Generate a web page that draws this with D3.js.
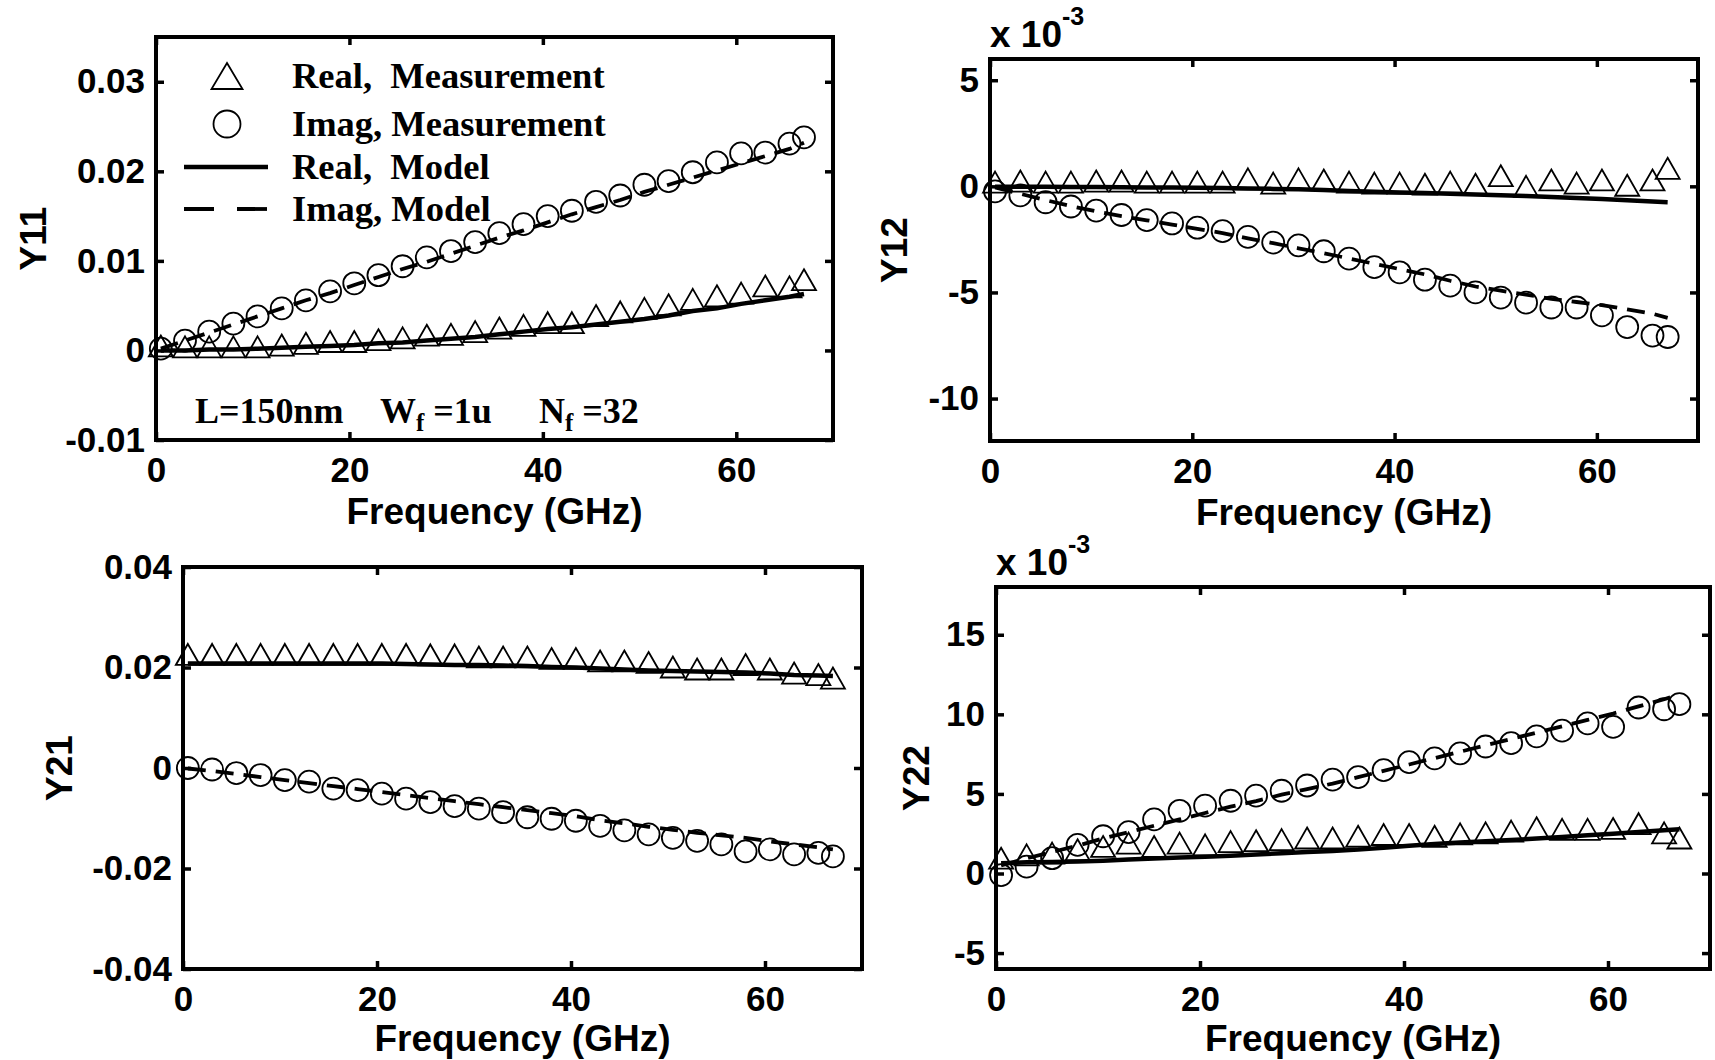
<!DOCTYPE html>
<html>
<head>
<meta charset="utf-8">
<script src="https://cdn.jsdelivr.net/npm/d3@7"></script>
<style>
    body { margin: 0; background: #fff; }
    svg text { font-family: "Liberation Sans", Arial, sans-serif; font-weight: bold; fill: #000; }
    svg text.serif { font-family: "Liberation Serif", "Times New Roman", serif; }
</style>
</head>
<body>
<svg width="1715" height="1060"></svg>
<script>
// frequency points (GHz)
const freq = [0.5, 3, 5.5, 8, 10.5, 13, 15.5, 18, 20.5, 23, 25.5, 28, 30.5, 33, 35.5, 38, 40.5, 43, 45.5, 48, 50.5, 53, 55.5, 58, 60.5, 63, 65.5, 67];

const xTicks = [0, 20, 40, 60];
const y11Ticks = [-0.01, 0, 0.01, 0.02, 0.03];
const y12Ticks = [-10, -5, 0, 5];
const y21Ticks = [-0.04, -0.02, 0, 0.02, 0.04];
const y22Ticks = [-5, 0, 5, 10, 15];

// Y11
const y11RealMeas = [0.0005, 0.0004, 0.0004, 0.0004, 0.0004, 0.0006, 0.0008, 0.001, 0.001, 0.0012, 0.0014, 0.0017, 0.0018, 0.0021, 0.0025, 0.0028, 0.0031, 0.0031, 0.0039, 0.0043, 0.0047, 0.0051, 0.0057, 0.0061, 0.0064, 0.0072, 0.0071, 0.0079];
const y11ImagMeas = [0.0002, 0.0011, 0.0021, 0.003, 0.0038, 0.0047, 0.0056, 0.0066, 0.0075, 0.0084, 0.0094, 0.0104, 0.0111, 0.0121, 0.0131, 0.0141, 0.015, 0.0156, 0.0166, 0.0173, 0.0185, 0.0189, 0.0199, 0.021, 0.022, 0.0221, 0.0231, 0.0238];
const y11RealModel = [0, 0, 0.0001, 0.0001, 0.0002, 0.0003, 0.0004, 0.0005, 0.0006, 0.0008, 0.0009, 0.0011, 0.0013, 0.0015, 0.0018, 0.0021, 0.0024, 0.0026, 0.0029, 0.0032, 0.0035, 0.0039, 0.0044, 0.0047, 0.0052, 0.0056, 0.006, 0.0063];
const y11ImagModel = [0.0002, 0.0011, 0.002, 0.0029, 0.0038, 0.0047, 0.0056, 0.0064, 0.0073, 0.0082, 0.0091, 0.0099, 0.0108, 0.0117, 0.0126, 0.0134, 0.0143, 0.0152, 0.016, 0.0168, 0.0177, 0.0185, 0.0193, 0.0201, 0.0209, 0.0217, 0.0225, 0.0232];

// Y12 (x 1e-3)
const y12RealMeas = [0.2, 0.25, 0.2, 0.2, 0.25, 0.25, 0.2, 0.2, 0.2, 0.2, 0.35, 0.15, 0.35, 0.3, 0.2, 0.15, 0.15, 0.1, 0.2, 0.1, 0.5, 0.0, 0.3, 0.15, 0.3, 0.05, 0.3, 0.85];
const y12ImagMeas = [-0.24, -0.43, -0.75, -0.95, -1.14, -1.35, -1.59, -1.75, -1.95, -2.11, -2.38, -2.65, -2.78, -3.06, -3.41, -3.81, -4.05, -4.4, -4.68, -5.0, -5.24, -5.48, -5.71, -5.71, -6.08, -6.63, -7.03, -7.1];
const y12RealModel = [-0.02, -0.02, -0.02, -0.03, -0.03, -0.04, -0.05, -0.06, -0.07, -0.08, -0.1, -0.12, -0.14, -0.17, -0.22, -0.26, -0.29, -0.32, -0.35, -0.38, -0.42, -0.46, -0.5, -0.55, -0.6, -0.65, -0.72, -0.75];
const y12ImagModel = [-0.05, -0.35, -0.65, -0.93, -1.18, -1.4, -1.6, -1.8, -2.0, -2.2, -2.45, -2.68, -2.92, -3.15, -3.4, -3.65, -3.9, -4.15, -4.45, -4.72, -4.92, -5.1, -5.3, -5.45, -5.6, -5.8, -6.0, -6.2];

// Y21
const y21RealMeas = [0.0226, 0.0226, 0.0226, 0.0226, 0.0226, 0.0226, 0.0226, 0.0226, 0.0226, 0.0226, 0.0225, 0.0225, 0.0221, 0.0221, 0.0221, 0.0218, 0.0218, 0.0213, 0.0213, 0.021, 0.0201, 0.0197, 0.0197, 0.0206, 0.0197, 0.0189, 0.0186, 0.0179];
const y21ImagMeas = [0.0, -0.0003, -0.001, -0.0014, -0.0024, -0.0027, -0.0041, -0.0044, -0.0051, -0.0061, -0.0068, -0.0076, -0.0081, -0.0088, -0.0098, -0.0101, -0.0105, -0.0115, -0.0124, -0.0132, -0.0139, -0.0145, -0.0152, -0.0166, -0.0162, -0.0172, -0.0169, -0.0176];
const y21RealModel = [0.0208, 0.0208, 0.0208, 0.0208, 0.0208, 0.0208, 0.0208, 0.0208, 0.0208, 0.0207, 0.0206, 0.0205, 0.0205, 0.0204, 0.0203, 0.0201, 0.02, 0.0198, 0.0196, 0.0194, 0.0193, 0.0192, 0.0191, 0.019, 0.0188, 0.0185, 0.0184, 0.0183];
const y21ImagModel = [-0.0001, -0.0006, -0.0012, -0.0018, -0.0024, -0.003, -0.0036, -0.0042, -0.0048, -0.0054, -0.006, -0.0066, -0.0072, -0.0078, -0.0084, -0.009, -0.0096, -0.0104, -0.011, -0.0117, -0.0123, -0.0129, -0.0134, -0.0139, -0.0146, -0.0152, -0.0158, -0.0162];

// Y22 (x 1e-3)
const y22RealMeas = [0.96, 1.17, 1.28, 1.49, 1.7, 1.91, 1.7, 1.91, 1.8, 2.0, 2.06, 2.13, 2.23, 2.23, 2.34, 2.45, 2.45, 2.34, 2.49, 2.55, 2.66, 2.87, 2.77, 2.77, 2.83, 3.13, 2.55, 2.23];
const y22ImagMeas = [-0.1, 0.43, 0.96, 1.8, 2.34, 2.6, 3.4, 3.94, 4.26, 4.57, 4.89, 5.2, 5.53, 5.9, 6.06, 6.49, 7.0, 7.23, 7.55, 7.98, 8.19, 8.62, 8.98, 9.43, 9.21, 10.43, 10.32, 10.64];
const y22RealModel = [0.65, 0.7, 0.72, 0.75, 0.8, 0.88, 0.95, 1.0, 1.05, 1.12, 1.2, 1.27, 1.35, 1.42, 1.5, 1.62, 1.75, 1.85, 1.95, 2.02, 2.1, 2.2, 2.3, 2.4, 2.5, 2.6, 2.72, 2.78];
const y22ImagModel = [0.5, 0.95, 1.35, 1.75, 2.2, 2.6, 3.0, 3.4, 3.8, 4.2, 4.55, 4.95, 5.3, 5.65, 6.05, 6.45, 6.85, 7.25, 7.65, 8.05, 8.45, 8.85, 9.25, 9.65, 10.05, 10.5, 10.95, 11.25];

const svg = d3.select("svg");

const panels = [
    {label: "Y11", yDomain: [-0.01, 0.035], yTicks: y11Ticks, box: {left: 156, right: 833, top: 37, bottom: 440}, labelX: 33, exp: false,
        realMeas: y11RealMeas, imagMeas: y11ImagMeas, realModel: y11RealModel, imagModel: y11ImagModel},
    {label: "Y12", yDomain: [-12, 6], yTicks: y12Ticks, box: {left: 990, right: 1698, top: 59, bottom: 441}, labelX: 894, exp: true,
        realMeas: y12RealMeas, imagMeas: y12ImagMeas, realModel: y12RealModel, imagModel: y12ImagModel},
    {label: "Y21", yDomain: [-0.04, 0.04], yTicks: y21Ticks, box: {left: 183, right: 862, top: 567, bottom: 969}, labelX: 59, exp: false,
        realMeas: y21RealMeas, imagMeas: y21ImagMeas, realModel: y21RealModel, imagModel: y21ImagModel},
    {label: "Y22", yDomain: [-6, 18], yTicks: y22Ticks, box: {left: 996, right: 1710, top: 587, bottom: 969}, labelX: 916, exp: true,
        realMeas: y22RealMeas, imagMeas: y22ImagMeas, realModel: y22RealModel, imagModel: y22ImagModel}
];

const triW = 24, triH = 21, circR = 11;

function triangle(w, h) {
    return "M0," + (-h / 2) + "L" + (w / 2) + "," + (h / 2) + "L" + (-w / 2) + "," + (h / 2) + "Z";
}

function styleAxis(g) {
    g.select(".domain").remove();
    g.selectAll(".tick line").attr("stroke", "#000").attr("stroke-width", 3.5);
    g.selectAll("text").attr("font-size", 35);
    g.attr("font-family", null).attr("font-size", null);
}

function drawPanel(p) {
    const b = p.box;
    const x = d3.scaleLinear().domain([0, 70]).range([b.left, b.right]);
    const y = d3.scaleLinear().domain(p.yDomain).range([b.bottom, b.top]);
    const g = svg.append("g");
    const fmt = d => d === 0 ? "0" : String(d);

    g.append("g").attr("transform", "translate(0," + b.bottom + ")")
        .call(d3.axisBottom(x).tickValues(xTicks).tickSizeInner(-8).tickSizeOuter(0).tickPadding(17).tickFormat(fmt))
        .call(styleAxis);
    g.append("g").attr("transform", "translate(0," + b.top + ")")
        .call(d3.axisTop(x).tickValues(xTicks).tickSizeInner(-8).tickSizeOuter(0).tickFormat(""))
        .call(styleAxis);
    g.append("g").attr("transform", "translate(" + b.left + ",0)")
        .call(d3.axisLeft(y).tickValues(p.yTicks).tickSizeInner(-8).tickSizeOuter(0).tickPadding(11).tickFormat(fmt))
        .call(styleAxis);
    g.append("g").attr("transform", "translate(" + b.right + ",0)")
        .call(d3.axisRight(y).tickValues(p.yTicks).tickSizeInner(-8).tickSizeOuter(0).tickFormat(""))
        .call(styleAxis);

    g.append("rect")
        .attr("x", b.left).attr("y", b.top)
        .attr("width", b.right - b.left).attr("height", b.bottom - b.top)
        .attr("fill", "none").attr("stroke", "#000").attr("stroke-width", 4);

    const line = d3.line().x((d, i) => x(freq[i])).y(d => y(d));

    g.selectAll(".tri").data(p.realMeas).join("path")
        .attr("d", triangle(triW, triH))
        .attr("transform", (d, i) => "translate(" + x(freq[i]) + "," + y(d) + ")")
        .attr("fill", "none").attr("stroke", "#000").attr("stroke-width", 1.8);
    g.selectAll(".circ").data(p.imagMeas).join("circle")
        .attr("cx", (d, i) => x(freq[i])).attr("cy", d => y(d)).attr("r", circR)
        .attr("fill", "none").attr("stroke", "#000").attr("stroke-width", 1.8);

    g.append("path").datum(p.realModel).attr("d", line)
        .attr("fill", "none").attr("stroke", "#000").attr("stroke-width", 4.5);
    g.append("path").datum(p.imagModel).attr("d", line)
        .attr("fill", "none").attr("stroke", "#000").attr("stroke-width", 3.8)
        .attr("stroke-dasharray", "18,10");

    g.append("text")
        .attr("transform", "translate(" + p.labelX + "," + (b.top + b.bottom) / 2 + ") rotate(-90)")
        .attr("text-anchor", "middle").attr("dominant-baseline", "central")
        .attr("font-size", 37).text(p.label);

    g.append("text")
        .attr("x", (b.left + b.right) / 2).attr("y", Math.min(b.bottom + 84, 1051))
        .attr("text-anchor", "middle").attr("font-size", 37)
        .text("Frequency (GHz)");

    if (p.exp) {
        const t = g.append("text").attr("x", b.left).attr("y", b.top - 12).attr("font-size", 37);
        t.append("tspan").text("x 10");
        t.append("tspan").attr("font-size", 25).attr("dy", -22).text("-3");
    }
}

panels.forEach(drawPanel);

// legend + device note (first panel)
const legendRows = [
    {text: "Real,  Measurement", kind: "tri", y: 88},
    {text: "Imag, Measurement", kind: "circ", y: 136},
    {text: "Real,  Model", kind: "solid", y: 179},
    {text: "Imag, Model", kind: "dash", y: 221}
];
const legend = svg.append("g");
legendRows.forEach(r => {
    const cy = r.y - 12;
    if (r.kind === "tri") {
        legend.append("path").attr("d", triangle(31, 26)).attr("transform", "translate(227," + cy + ")")
            .attr("fill", "none").attr("stroke", "#000").attr("stroke-width", 1.8);
    } else if (r.kind === "circ") {
        legend.append("circle").attr("cx", 227).attr("cy", cy).attr("r", 13.5)
            .attr("fill", "none").attr("stroke", "#000").attr("stroke-width", 1.8);
    } else {
        legend.append("line").attr("x1", 184).attr("x2", 268).attr("y1", cy).attr("y2", cy)
            .attr("stroke", "#000").attr("stroke-width", r.kind === "solid" ? 4.5 : 3.8)
            .attr("stroke-dasharray", r.kind === "dash" ? "30,23" : null);
    }
    legend.append("text").attr("class", "serif").attr("x", 292).attr("y", r.y)
        .attr("font-size", 36.5).style("white-space", "pre").text(r.text);
});

const note = svg.append("text").attr("class", "serif").attr("y", 423).attr("font-size", 36);
note.append("tspan").attr("x", 195).text("L=150nm");
note.append("tspan").attr("x", 380).text("W");
note.append("tspan").attr("font-size", 25).attr("dy", 8).text("f");
note.append("tspan").attr("dy", -8).text(" =1u");
note.append("tspan").attr("x", 539).text("N");
note.append("tspan").attr("font-size", 25).attr("dy", 8).text("f");
note.append("tspan").attr("dy", -8).text(" =32");
</script>
</body>
</html>
